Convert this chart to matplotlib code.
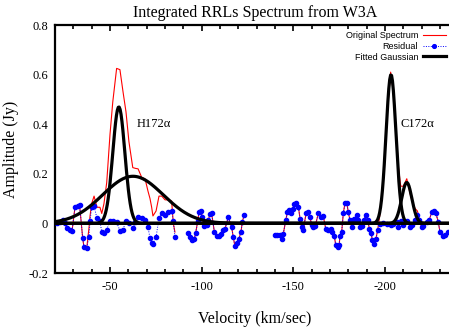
import numpy as np
import matplotlib
matplotlib.use("Agg")
import matplotlib.pyplot as plt
from matplotlib.ticker import MultipleLocator

# residual channels, three velocity windows (km/s)
vel_a = [-20.9, -22.7, -24.2, -25.5, -26.4, -28.2, -29.3, -30.9, -32.5, -33.4,
         -35.1, -35.8, -37.3, -38.5, -39.1, -40.0, -41.3, -42.9, -44.5, -45.5,
         -46.7, -48.2, -50.0, -51.5, -53.6, -55.4, -57.1, -58.7, -60.3, -62.4,
         -63.8, -65.3, -67.3, -69.1, -70.7, -71.8, -72.7, -73.4, -75.1, -76.7,
         -78.2, -80.0, -81.8, -83.6, -84.5, -85.4]
resid_a = [0.0, 0.005, 0.012, 0.0, -0.02, -0.025, -0.03, 0.065, 0.07, 0.075,
           -0.06, -0.095, -0.1, -0.055, 0.01, 0.065, 0.07, 0.02, 0.01, -0.035,
           -0.04, -0.025, 0.01, 0.01, 0.005, -0.03, -0.025, 0.01, 0.0, -0.02,
           0.005, 0.025, 0.02, 0.015, -0.015, -0.06, -0.08, -0.085, -0.055, 0.02,
           0.04, 0.035, 0.045, 0.05, 0.01, -0.055]
# original spectrum over the H172a line (from -38.5 km/s on)
orig_a_line = [-0.02, 0.03, 0.08, 0.11, 0.065, 0.065, 0.04, 0.08, 0.165, 0.36,
               0.49, 0.625, 0.62, 0.53, 0.45, 0.33, 0.225, 0.222, 0.22, 0.185,
               0.18, 0.13, 0.1, 0.065, 0.03, 0.05, 0.11, 0.11, 0.095, 0.095,
               0.09, 0.0, -0.035]

vel_b = [-92.7, -93.6, -94.9, -96.0, -96.7, -97.8, -98.5, -99.6, -100.3, -101.4,
         -102.7, -103.6, -104.5, -105.4, -106.9, -108.2, -109.4, -110.5, -111.8,
         -112.7, -114.5, -116.3, -117.2, -118.1, -119.1, -120.3, -121.4, -122.1,
         -123.2]
resid_b = [-0.039, -0.055, -0.068, -0.061, -0.039, 0.009, 0.045, 0.052, 0.025,
           -0.012, -0.008, 0.012, 0.039, 0.041, -0.035, -0.052, -0.052, -0.041,
           -0.028, -0.021, 0.025, -0.015, -0.055, -0.092, -0.079, -0.061, -0.035,
           0.005, 0.035]

vel_c = [-140.0, -141.2, -142.7, -143.6, -144.5, -145.8, -146.7, -147.8, -148.5,
         -149.6, -150.5, -151.4, -152.7, -153.6, -154.5, -155.4, -156.9, -158.1,
         -159.0, -160.0, -160.8, -161.8, -163.6, -165.0, -166.3, -167.6, -169.0,
         -170.5, -171.2, -172.3, -173.1, -174.1, -174.9, -175.4, -176.3, -177.2,
         -178.1, -179.1, -179.9, -180.8, -181.8, -183.2, -184.5, -185.4, -186.3,
         -187.2, -188.6, -189.4, -190.5, -191.4, -192.3, -193.0, -194.1, -195.0,
         -195.9, -197.2, -199.0, -201.2, -203.0, -204.5, -206.3, -207.2, -208.5,
         -209.9, -211.8, -213.6, -214.5, -216.3, -217.6, -218.6, -219.9, -220.8,
         -222.7, -224.1, -225.4, -226.7, -227.7, -229.0, -229.9, -231.4, -232.6,
         -234.1]
resid_c = [-0.048, -0.048, -0.045, -0.061, -0.041, 0.012, 0.045, 0.055, 0.041,
           0.059, 0.079, 0.083, 0.068, 0.019, -0.015, -0.025, 0.041, 0.045, 0.025,
           -0.008, -0.015, -0.012, 0.04, 0.025, 0.028, -0.021, -0.025, -0.021,
           -0.035, -0.052, -0.088, -0.097, -0.088, -0.052, -0.035, 0.041, 0.081,
           0.083, 0.045, 0.015, -0.015, 0.019, 0.032, 0.012, -0.015, -0.012, 0.015,
           0.032, 0.012, -0.021, -0.039, -0.065, -0.084, -0.061, -0.028, -0.002,
           0.0, -0.004, -0.008, -0.004, 0.005, -0.015, 0.009, -0.008, 0.009,
           -0.015, -0.008, 0.012, 0.032, 0.012, -0.015, -0.012, 0.005, 0.015,
           0.045, 0.052, 0.041, 0.005, -0.035, -0.052, -0.048, -0.035]
# original spectrum over the C172a lines (-197.2 to -218.6 km/s)
orig_c_line = [0.04, 0.18, 0.45, 0.61, 0.53, 0.34, 0.23, 0.15, 0.15, 0.18,
               0.12, 0.095, 0.06, 0.05, 0.02]

# fitted gaussians: amplitude (Jy), centre (km/s), sigma (km/s)
fit_amp = [0.47, 0.19, 0.60, 0.165]
fit_cen = [-54.8, -62.5, -203.2, -211.8]
fit_sig = [3.3, 16.5, 2.7, 2.8]

serif = "Liberation Serif"

orig_a = resid_a[:13] + orig_a_line
orig_c = resid_c[:55] + orig_c_line + resid_c[70:]

fig = plt.figure(figsize=(4.49, 3.27), dpi=100)
ax = fig.add_axes([55 / 449, 1 - 273 / 327, 403.5 / 449, 248 / 327])

# original spectrum
for v, y in [(vel_a, orig_a), (vel_b, resid_b), (vel_c, orig_c)]:
    ax.plot(v, y, color="red", lw=0.8, zorder=2)

# residual
res_style = dict(color="blue", lw=0.7, ls=(0, (1, 1.5)), marker="o", ms=3.0,
                 mec="blue", mfc="blue")
for v, y in [(vel_a, resid_a), (vel_b, resid_b), (vel_c, resid_c)]:
    ax.plot(v, y, zorder=3, **res_style)

# fitted gaussians
grid = np.arange(-20.0, -240.5, -0.5)
for a, c, s in zip(fit_amp, fit_cen, fit_sig):
    ax.plot(grid, a * np.exp(-(grid - c) ** 2 / (2 * s ** 2)),
            color="black", lw=2.3, zorder=4)

# legend entries (gnuplot style: text left, sample right)
h1, = ax.plot([], [], color="red", lw=0.8)
h2, = ax.plot([], [], **res_style)
h3, = ax.plot([], [], color="black", lw=2.3)
ax.legend([h1, h2, h3], ["Original Spectrum", "Residual", "Fitted Gaussian"],
          loc="upper right", bbox_to_anchor=(446 / 449, 1 - 31 / 327),
          bbox_transform=fig.transFigure, markerfirst=False, frameon=False,
          handlelength=2.6, handletextpad=0.5, labelspacing=0.2, borderpad=0,
          borderaxespad=0, markerscale=0.9,
          prop={"family": "Liberation Sans", "size": 6.5})

ax.text(-64.5, 0.4, "H172\u03b1", family=serif, fontsize=9, va="center")
ax.text(-208.5, 0.4, "C172\u03b1", family=serif, fontsize=9, va="center")

ax.set_xlim(-20, -240)
ax.set_ylim(-0.2, 0.8)
ax.xaxis.set_minor_locator(MultipleLocator(10))
ax.set_yticks([-0.2, 0, 0.2, 0.4, 0.6, 0.8])
ax.set_yticklabels(["-0.2", "0", "0.2", "0.4", "0.6", "0.8"])
ax.set_xticks([-50, -100, -150, -200])
ax.set_xticklabels(["-50", "-100", "-150", "-200"])
ax.tick_params(axis="x", which="both", direction="in", top=True, width=1.2)
ax.tick_params(axis="x", which="major", length=4, pad=6)
ax.tick_params(axis="x", which="minor", length=3)
ax.tick_params(axis="y", length=0, pad=5)
for lab in ax.get_xticklabels() + ax.get_yticklabels():
    lab.set_family(serif)
    lab.set_fontsize(9)
for sp in ax.spines.values():
    sp.set_linewidth(1.6)

ax.set_title("Integrated RRLs Spectrum from W3A", family=serif, fontsize=11.5,
             pad=6, x=(255 - 55) / 403.5)
ax.set_xlabel("Velocity (km/sec)", family=serif, fontsize=11.5)
ax.xaxis.set_label_coords((255 - 55) / 403.5, -0.155)
ax.set_ylabel("Amplitude (Jy)", family=serif, fontsize=11.5)
ax.yaxis.set_label_coords(-0.09, 0.5)

fig.savefig("out.png", dpi=100)
